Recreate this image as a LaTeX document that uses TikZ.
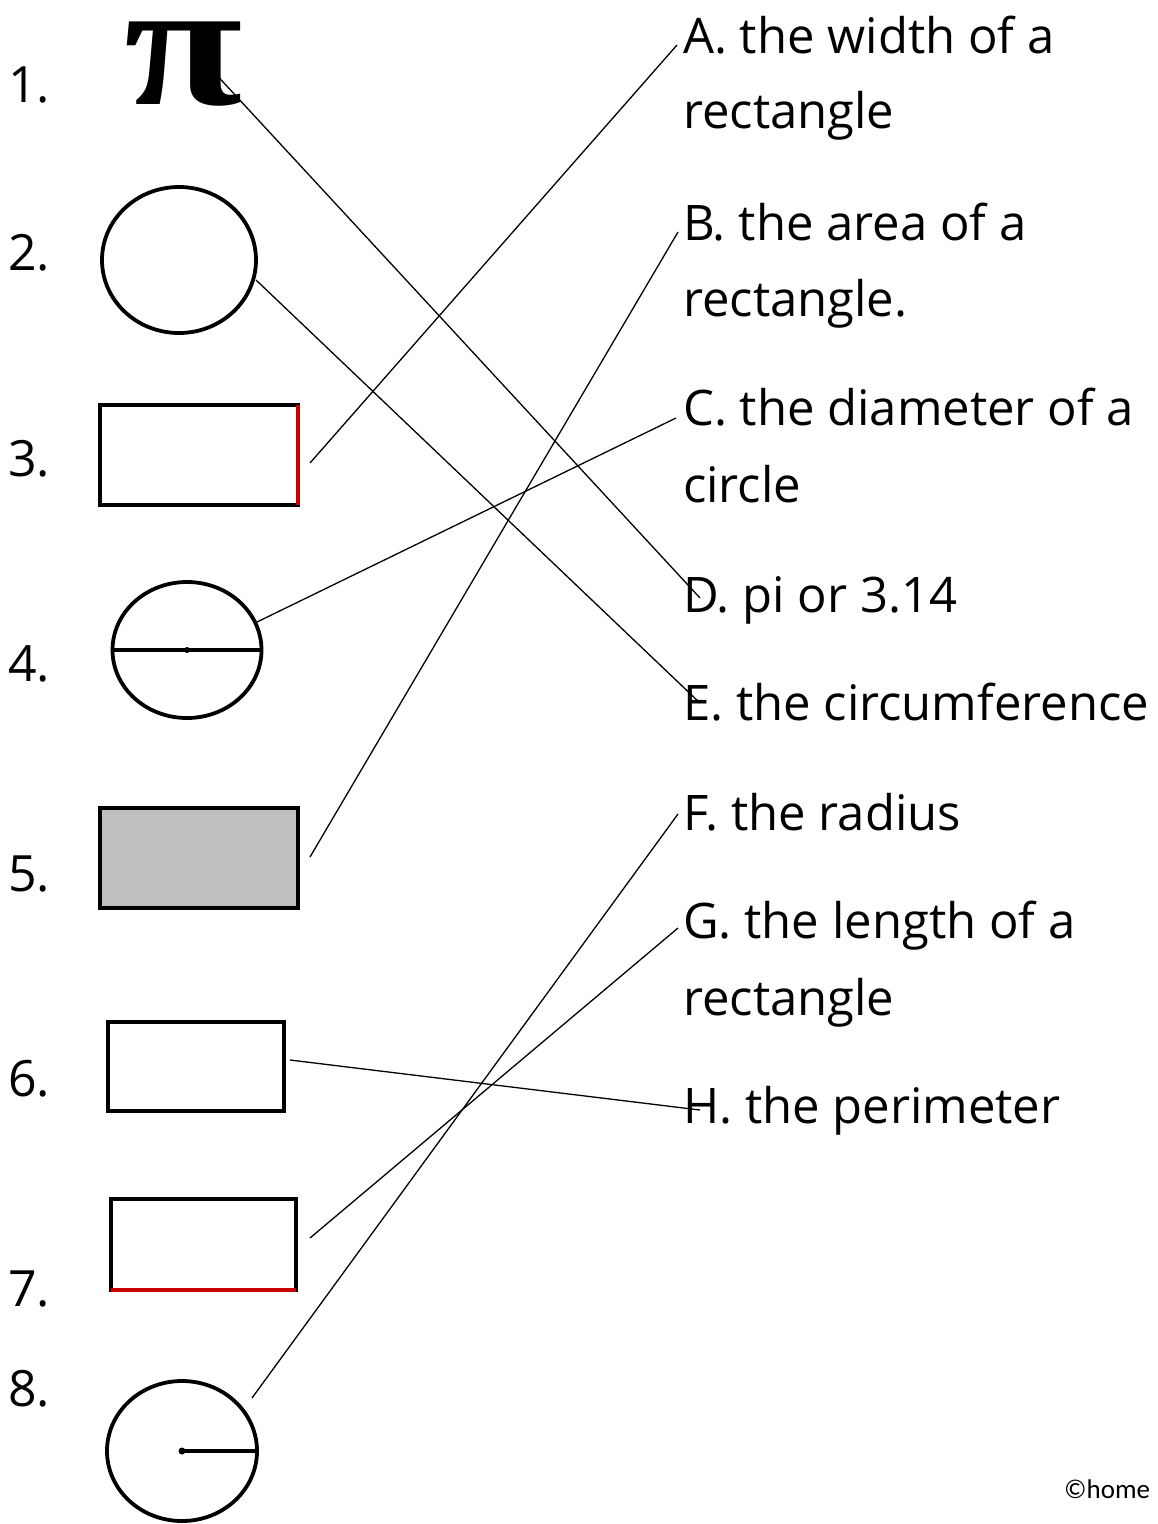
\documentclass[tikz,border=0pt]{standalone}
\usepackage{fontspec}
\setmainfont{Open Sans}
\newfontfamily\pifont{Liberation Serif}
\newfontfamily\copyfont{Carlito}
\usetikzlibrary{shapes.geometric}
\begin{document}
\begin{tikzpicture}[x=1pt,y=-1pt,
  lab/.style={anchor=base west, font=\fontsize{49}{49}\selectfont, inner sep=0pt},
  num/.style={anchor=base west, font=\fontsize{50}{50}\selectfont, inner sep=0pt},
  shp/.style={draw, line width=3.8pt, inner sep=0pt, outer sep=0pt},
  conn/.style={line width=1.3pt}]
\useasboundingbox (0,0) rectangle (1158,1524);
% numbers
\node[num] (n1) at (8,102) {1.};
\node[num] (n2) at (8,270) {2.};
\node[num] (n3) at (8,476) {3.};
\node[num] (n4) at (8,681) {4.};
\node[num] (n5) at (8,891) {5.};
\node[num] (n6) at (8,1096) {6.};
\node[num] (n7) at (8,1306) {7.};
\node[num] (n8) at (8,1406) {8.};
% figures
\node[anchor=base, inner sep=0pt, font=\pifont\bfseries\fontsize{180}{180}\selectfont] (pi) at (184,104) {\smash{\scalebox{1.2}[1]{π}}};
\node[shp, ellipse, minimum width=154pt, minimum height=146pt] (c2) at (179,260) {};
\node[shp, rectangle, minimum width=198pt, minimum height=100pt] (r3) at (199,455) {};
\draw[red!80!black, line width=3.8pt] (r3.north east) -- (r3.south east);
\node[shp, ellipse, minimum width=149pt, minimum height=136pt] (c4) at (187,650) {};
\draw[line width=3.8pt] (c4.west) -- (c4.east);
\fill (c4.center) circle (3pt);
\node[shp, rectangle, fill=gray!50, minimum width=198pt, minimum height=100pt] (r5) at (199,858) {};
\node[shp, rectangle, minimum width=176pt, minimum height=89pt] (r6) at (196,1066.5) {};
\node[shp, rectangle, minimum width=185pt, minimum height=91pt] (r7) at (203.5,1244.5) {};
\draw[red!80!black, line width=3.8pt] (r7.south west) -- (r7.south east);
\node[shp, ellipse, minimum width=150pt, minimum height=140pt] (c8) at (182,1451) {};
\draw[line width=3.8pt] (c8.center) -- (c8.east);
\fill (c8.center) circle (3.5pt);
% labels
\node[lab] (tA) at (683,53) {A. the width of a};
\node[lab] (tA2) at (683,128) {rectangle};
\node[lab] (tB) at (683,240) {B. the area of a};
\node[lab] (tB2) at (683,316) {rectangle.};
\node[lab] (tC) at (683,425) {C. the diameter of a};
\node[lab] (tC2) at (683,502) {circle};
\node[lab] (tD) at (683,612) {D. pi or 3.14};
\node[lab] (tE) at (683,720) {E. the circumference};
\node[lab] (tF) at (683,830) {F. the radius};
\node[lab] (tG) at (683,938) {G. the length of a};
\node[lab] (tG2) at (683,1015) {rectangle};
\node[lab] (tH) at (683,1123) {H. the perimeter};
\node[anchor=base west, inner sep=0pt, font=\copyfont\fontsize{27}{27}\selectfont] (copy) at (1064,1498) {©home};
% connector ends
\coordinate (p1) at (212,70);   \coordinate (d) at (700,598);
\coordinate (p2) at (256,280);  \coordinate (e) at (700,703);
\coordinate (p3) at (310,463);  \coordinate (a) at (677,45);
\coordinate (p4) at (257,622);  \coordinate (c) at (676,418);
\coordinate (p5) at (310,857);  \coordinate (b) at (678,232);
\coordinate (p6) at (290,1060); \coordinate (h) at (700,1110);
\coordinate (p7) at (310,1238); \coordinate (g) at (678,928);
\coordinate (p8) at (252,1398); \coordinate (f) at (678,814);
\draw[conn] (p1) -- (d);
\draw[conn] (p2) -- (e);
\draw[conn] (p3) -- (a);
\draw[conn] (p4) -- (c);
\draw[conn] (p5) -- (b);
\draw[conn] (p6) -- (h);
\draw[conn] (p7) -- (g);
\draw[conn] (p8) -- (f);
\end{tikzpicture}
\end{document}
